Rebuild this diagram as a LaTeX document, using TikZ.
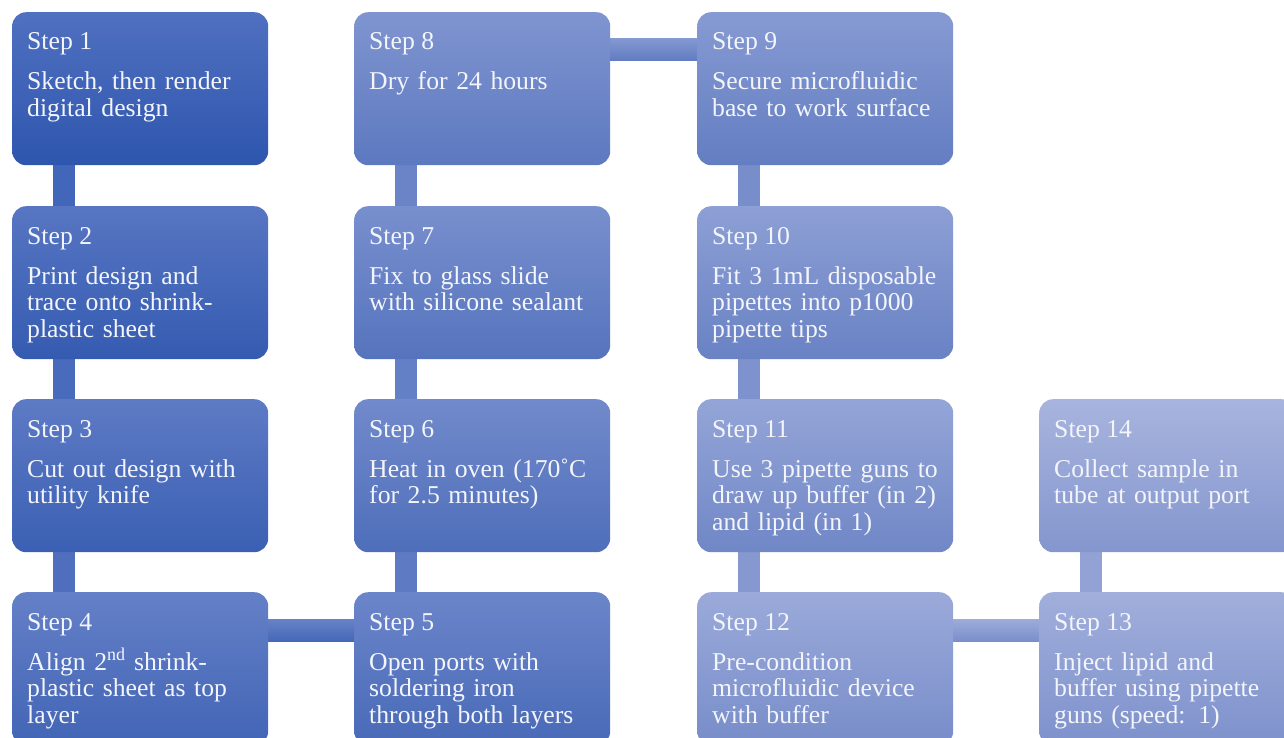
\documentclass[tikz,border=0pt]{standalone}
\usepackage{fontspec}
\setmainfont{Liberation Serif}
\usetikzlibrary{calc,backgrounds}
\definecolor{dtop}{RGB}{80,112,192}
\definecolor{ltop}{RGB}{168,180,222}
\definecolor{dbot}{RGB}{46,86,174}
\definecolor{lbot}{RGB}{132,150,206}
\definecolor{dmid}{RGB}{62,99,184}
\definecolor{lmid}{RGB}{150,165,214}
\definecolor{txt}{RGB}{243,245,251}
\tikzset{
  stepbox/.style={rectangle, rounded corners=14pt, draw=none, minimum width=256pt,
    minimum height=153pt, anchor=north west, inner sep=0pt},
  steptitle/.style={anchor=base west, inner sep=0pt, text=txt,
    font=\fontsize{25.7}{26.5}\selectfont},
  stepbody/.style={anchor=base west, inner sep=0pt, text=txt, align=left,
    text width=250pt, font=\fontsize{25.7}{26.5}\selectfont},
}
\newcommand\mkstep[4]{%
  \pgfmathtruncatemacro\pct{round(100*(14-#1)/13)}%
  \colorlet{ctop}{dtop!\pct!ltop}%
  \colorlet{cbot}{dbot!\pct!lbot}%
  \node[stepbox, top color=ctop, bottom color=cbot] (s#1) at (#2,#3) {};
  \node[steptitle] (t#1) at ($(s#1.north west)+(15,38)$) {Step #1};
  \node[stepbody] (b#1) at ($(s#1.north west)+(15,78)$) {#4};
}
% vertical link: upper node, lower node, mean index
\newcommand\vlink[3]{%
  \pgfmathtruncatemacro\pct{round(100*(14-#3)/13)}%
  \colorlet{cc}{dmid!\pct!lmid}%
  \fill[cc] ($(s#1.south west)+(41,-2)$) rectangle ($(s#2.north west)+(63,2)$);
}
% horizontal link: left node, right node, mean index
\newcommand\hlink[3]{%
  \pgfmathtruncatemacro\pct{round(100*(14-#3)/13)}%
  \colorlet{hct}{dtop!\pct!ltop}%
  \colorlet{hcb}{dbot!\pct!lbot}%
  \path[top color=hct, bottom color=hcb] ($(s#1.north east)+(-2,27)$) rectangle ($(s#2.north west)+(2,49)$);
}
\begin{document}
\begin{tikzpicture}[x=1pt, y={(0pt,-1pt)}]
\useasboundingbox (0,0) rectangle (1284,738);
\clip (0,0) rectangle (1284,738);
\mkstep{1}{12}{12}{Sketch, then render\\digital design}
\mkstep{2}{12}{206}{Print design and\\trace onto shrink-\\plastic sheet}
\mkstep{3}{12}{399}{Cut out design with\\utility knife}
\mkstep{4}{12}{592}{Align 2\textsuperscript{nd} shrink-\\plastic sheet as top\\layer}
\mkstep{5}{354}{592}{Open ports with\\soldering iron\\through both layers}
\mkstep{6}{354}{399}{Heat in oven (170˚C\\for 2.5 minutes)}
\mkstep{7}{354}{206}{Fix to glass slide\\with silicone sealant}
\mkstep{8}{354}{12}{Dry for 24 hours}
\mkstep{9}{697}{12}{Secure microfluidic\\base to work surface}
\mkstep{10}{697}{206}{Fit 3 1mL disposable\\pipettes into p1000\\pipette tips}
\mkstep{11}{697}{399}{Use 3 pipette guns to\\draw up buffer (in 2)\\and lipid (in 1)}
\mkstep{12}{697}{592}{Pre-condition\\microfluidic device\\with buffer}
\mkstep{13}{1039}{592}{Inject lipid and\\buffer using pipette\\guns (speed: 1)}
\mkstep{14}{1039}{399}{Collect sample in\\tube at output port}
\begin{pgfonlayer}{background}
\vlink{1}{2}{1.5}
\vlink{2}{3}{2.5}
\vlink{3}{4}{3.5}
\hlink{4}{5}{4.5}
\vlink{6}{5}{5.5}
\vlink{7}{6}{6.5}
\vlink{8}{7}{7.5}
\hlink{8}{9}{8.5}
\vlink{9}{10}{9.5}
\vlink{10}{11}{10.5}
\vlink{11}{12}{11.5}
\hlink{12}{13}{12.5}
\vlink{14}{13}{13.5}
\end{pgfonlayer}
\end{tikzpicture}
\end{document}
